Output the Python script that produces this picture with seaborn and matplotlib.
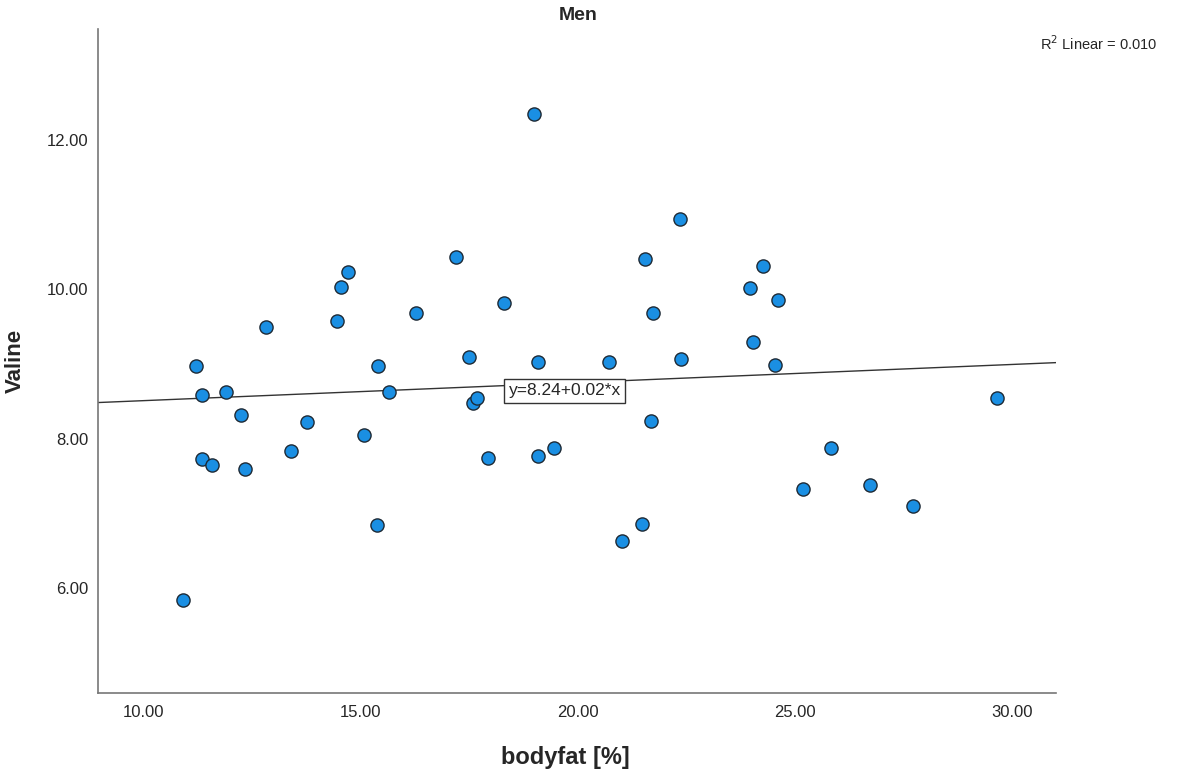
import numpy as np
import pandas as pd
import seaborn as sns
from matplotlib import pyplot as plt

# values (bodyfat %, valine)
bodyfat = [10.92, 11.22, 11.36, 11.36, 11.59, 11.91, 12.24, 12.35, 12.83, 13.41,
           13.76, 14.47, 14.56, 14.72, 15.09, 15.39, 15.41, 15.65, 16.27, 17.19,
           17.49, 17.58, 17.67, 17.93, 18.29, 18.99, 19.08, 19.08, 19.45, 20.71,
           21.01, 21.47, 21.54, 21.68, 21.73, 22.37, 22.35, 23.96, 24.03, 24.26,
           24.54, 24.61, 25.18, 25.83, 26.71, 27.72, 29.65]
valine = [5.85, 8.97, 8.59, 7.73, 7.65, 8.63, 8.32, 7.60, 9.49, 7.84,
          8.23, 9.57, 10.03, 10.23, 8.05, 6.85, 8.97, 8.63, 9.68, 10.43,
          9.10, 8.48, 8.54, 7.74, 9.81, 12.34, 9.02, 7.77, 7.88, 9.03,
          6.63, 6.86, 10.40, 8.24, 9.68, 9.06, 10.94, 10.01, 9.30, 10.31,
          8.99, 9.85, 7.33, 7.88, 7.38, 7.10, 8.54]
x_ticks = [10, 15, 20, 25, 30]
y_ticks = [6, 8, 10, 12]

df = pd.DataFrame({"bodyfat": bodyfat, "valine": valine})

sns.set_theme(style="white")
plt.rcParams["font.family"] = ["Liberation Sans", "DejaVu Sans"]

fig = plt.figure(figsize=(11.86, 7.73), dpi=100)
ax = fig.add_axes([0.0826, 0.1035, 0.8078, 0.859])
ax.set_xlim(8.96, 31.0)
ax.set_ylim(4.6, 13.48)

sns.regplot(data=df, x="bodyfat", y="valine", ax=ax, ci=None, truncate=False,
            scatter_kws=dict(s=90, color="#1a8fe3", edgecolor="#1e2a35",
                             linewidths=1.0, alpha=1, zorder=3),
            line_kws=dict(color="#333333", linewidth=1.0, zorder=2))

ax.text(19.7, 8.64, "y=8.24+0.02*x", ha="center", va="center",
        fontsize=12.5, zorder=4,
        bbox=dict(boxstyle="square,pad=0.25", facecolor="white", edgecolor="#333333", linewidth=1))

fig.text(0.976, 0.944, r"R$^2$ Linear = 0.010", ha="right", va="center", fontsize=10.5)

ax.set_xticks(x_ticks)
ax.set_xticklabels([f"{v:.2f}" for v in x_ticks], fontsize=12)
ax.set_yticks(y_ticks)
ax.set_yticklabels([f"{v:.2f}" for v in y_ticks], fontsize=12)
ax.tick_params(axis="y", length=0, pad=7)
ax.tick_params(axis="x", length=0, pad=9)

for side in ["top", "right"]:
    ax.spines[side].set_visible(False)
for side in ["left", "bottom"]:
    ax.spines[side].set_color("#777777")
    ax.spines[side].set_linewidth(1.2)

ax.set_xlabel("bodyfat [%]", fontsize=17, fontweight="bold")
ax.set_ylabel("Valine", fontsize=16, fontweight="bold")
ax.xaxis.set_label_coords(0.4875, -0.0964)
ax.yaxis.set_label_coords(-0.0866, 0.5)
ax.xaxis.label.set_va("center")
ax.yaxis.label.set_va("center")
fig.text(0.4874, 0.98, "Men", ha="center", va="center", fontsize=14, fontweight="bold")

fig.savefig("out.png", dpi=100)
